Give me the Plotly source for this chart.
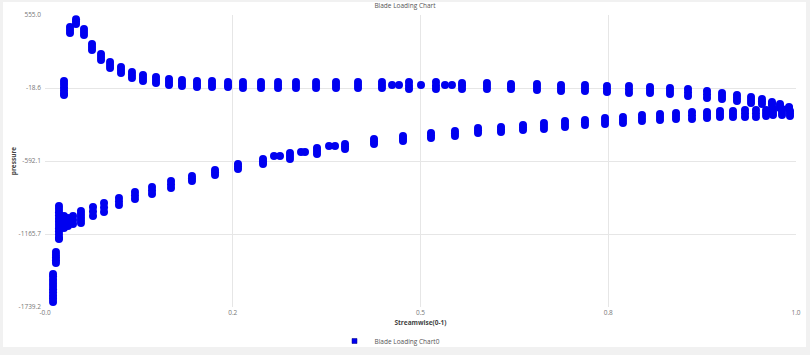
import plotly.graph_objects as go

# ---------------- data ----------------
upper_x = [0.0253, 0.0333, 0.0413, 0.0519, 0.0626, 0.0746, 0.0866, 0.1012, 0.1158, 0.1305,
           0.1478, 0.1651, 0.1824, 0.2024, 0.2224, 0.2437, 0.2636, 0.2876, 0.3103, 0.3342,
           0.3609, 0.3875, 0.4168, 0.4487, 0.4621, 0.4714, 0.4847, 0.5007, 0.5206, 0.5326,
           0.5419, 0.5553, 0.5885, 0.6205, 0.6551, 0.6871, 0.7190, 0.7483, 0.7776, 0.8056,
           0.8322, 0.8562, 0.8815, 0.9015, 0.9214, 0.9401, 0.9547, 0.9680, 0.9787, 0.9907]
upper_y = [[36, 12, -12, -37, -60, -74], [461, 437, 414], [522, 503, 485], [445, 421, 398],
           [327, 304, 280], [248, 225, 201], [186, 162, 139], [146, 123, 99],
           [107, 83, 60], [84, 60, 36], [68, 44, 21], [52, 29, 5], [44, 21, -3],
           [36, 13, -11], [36, 13, -11], [29, 5, -11], [29, 5, -19], [29, 5, -19],
           [29, 5, -19], [29, 5, -19], [29, 5, -19], [29, 5, -19], [29, 5, -19],
           [29, 5, -19], [5], [5], [29, 0, -26], [5], [29, 0, -26], [5], [5],
           [21, 0, -26], [21, -3, -26], [13, -7, -26], [13, -11, -34], [5, -19, -42],
           [5, -19, -42], [-3, -26, -50], [-3, -30, -58], [-11, -34, -58],
           [-19, -42, -66], [-26, -54, -81], [-42, -70, -97], [-58, -81, -105],
           [-74, -97, -121], [-89, -113, -136], [-105, -125, -144], [-129, -140, -152],
           [-144, -160, -176], [-168, -176, -183]]

lower_x = [0.0107, 0.0146, 0.0186, 0.0253, 0.0306, 0.0373, 0.0479, 0.0639, 0.0786, 0.0985,
           0.1198, 0.1425, 0.1678, 0.1957, 0.2264, 0.2570, 0.2903, 0.3049, 0.3129, 0.3262,
           0.3409, 0.3462, 0.3622, 0.3782, 0.3862, 0.3995, 0.4381, 0.4767, 0.5140, 0.5459,
           0.5766, 0.6072, 0.6365, 0.6644, 0.6924, 0.7190, 0.7457, 0.7696, 0.7949, 0.8189,
           0.8402, 0.8615, 0.8815, 0.8988, 0.9161, 0.9321, 0.9467, 0.9601, 0.9694, 0.9814,
           0.9920]
lower_y = [[-1480, -1500, -1525, -1550, -1575, -1600, -1625, -1650, -1675, -1700],
           [-1307, -1330, -1350, -1372, -1393],
           [-946, -970, -995, -1020, -1045, -1070, -1095, -1120, -1145, -1170, -1195, -1205],
           [-1024, -1048, -1071, -1095, -1118],
           [-1040, -1071, -1103], [-1024, -1055, -1087], [-985, -1008, -1032, -1055, -1079],
           [-954, -989, -1024], [-922, -958, -993], [-883, -910, -938], [-836, -863, -891],
           [-796, -824, -851], [-749, -776, -804], [-710, -730, -749], [-663, -682, -702],
           [-616, -635, -655], [-576, -596, -616], [-553], [-553], [-529, -553, -576],
           [-521], [-521], [-490, -513, -537], [-474], [-474], [-458, -478, -498],
           [-419, -439, -458], [-396, -415, -435], [-372, -392, -411], [-356, -376, -396],
           [-333, -352, -372], [-325, -345, -364], [-309, -329, -348], [-294, -317, -341],
           [-278, -301, -325], [-270, -290, -309], [-254, -278, -301], [-246, -270, -294],
           [-231, -254, -278], [-223, -246, -270], [-215, -238, -262], [-207, -235, -262],
           [-207, -231, -254], [-199, -223, -246], [-199, -223, -246], [-191, -219, -246],
           [-191, -219, -246], [-191, -215, -238], [-184, -207, -231], [-184, -207, -231],
           [-199, -219, -238]]

x_tickvals = [0, 0.25, 0.5, 0.75, 1.0]
x_ticktext = ["-0.0", "0.2", "0.5", "0.8", "1.0"]
y_tickvals = [555.0, -18.6, -592.1, -1165.7, -1739.2]
y_ticktext = ["555.0", "-18.6", "-592.1", "-1165.7", "-1739.2"]

series_name = "Blade Loading Chart0"
chart_title = "Blade Loading Chart"
x_title = "Streamwise(0-1)"
y_title = "pressure"

# ---------------- build ----------------
xs, ys = [], []
for bx, by in list(zip(upper_x, upper_y)) + list(zip(lower_x, lower_y)):
    for v in by:
        xs.append(bx)
        ys.append(v)

BLUE = "#0000f0"
FONT = "Open Sans"

fig = go.Figure()
fig.add_trace(go.Scatter(x=xs, y=ys, mode="markers", showlegend=False,
                         marker=dict(color=BLUE, size=8, line=dict(width=0)),
                         cliponaxis=True, name=series_name))
fig.add_trace(go.Scatter(x=[None], y=[None], mode="markers", name=series_name,
                         marker=dict(color=BLUE, size=5, symbol="square",
                                     line=dict(width=0.5, color="#000080"))))

W, H = 810, 355
L, R, T, B = 45, 14, 15, 48
pw, ph = W - L - R, H - T - B

def px2paper_x(px):
    return (px - L) / pw

def px2paper_y(py):
    return (H - B - py) / ph

fig.add_shape(type="rect", xref="paper", yref="paper", layer="below",
              x0=px2paper_x(3), x1=px2paper_x(806), y0=px2paper_y(347), y1=px2paper_y(2),
              fillcolor="white", line=dict(width=0))

fig.update_layout(
    width=W, height=H,
    margin=dict(l=L, r=R, t=T, b=B, pad=0, autoexpand=False),
    paper_bgcolor="#f1f1f1", plot_bgcolor="white",
    font=dict(family=FONT, size=6.5, color="#666666"),
    title=dict(text=chart_title, x=0.5, xref="container", xanchor="center",
               y=1 - 6 / H, yref="container", yanchor="middle",
               font=dict(family=FONT, size=6.5, color="#555555")),
    showlegend=True,
    legend=dict(orientation="h", x=px2paper_x(390), xanchor="center",
                y=px2paper_y(341), yanchor="middle",
                font=dict(family=FONT, size=6.5, color="#555555"),
                bgcolor="rgba(0,0,0,0)", itemwidth=30),
)
fig.update_xaxes(range=[0, 1], tickvals=x_tickvals, ticktext=x_ticktext,
                 showgrid=True, gridcolor="#e6e6e6", gridwidth=1, zeroline=False,
                 showline=False, ticks="", automargin=False,
                 tickfont=dict(family=FONT, size=6.5, color="#777777"),
                 title=dict(text="<b>" + x_title + "</b>", standoff=4,
                            font=dict(family=FONT, size=6.5, color="#444444")))
fig.update_yaxes(range=[-1739.2, 555.0], tickvals=y_tickvals, ticktext=y_ticktext,
                 showgrid=True, gridcolor="#e6e6e6", gridwidth=1, zeroline=False,
                 showline=False, ticks="", automargin=False, ticklabelstandoff=3,
                 tickfont=dict(family=FONT, size=6.5, color="#777777"),
                 title=dict(text="<b>" + y_title + "</b>", standoff=1,
                            font=dict(family=FONT, size=6.5, color="#444444")))

fig.write_html("out.html")
